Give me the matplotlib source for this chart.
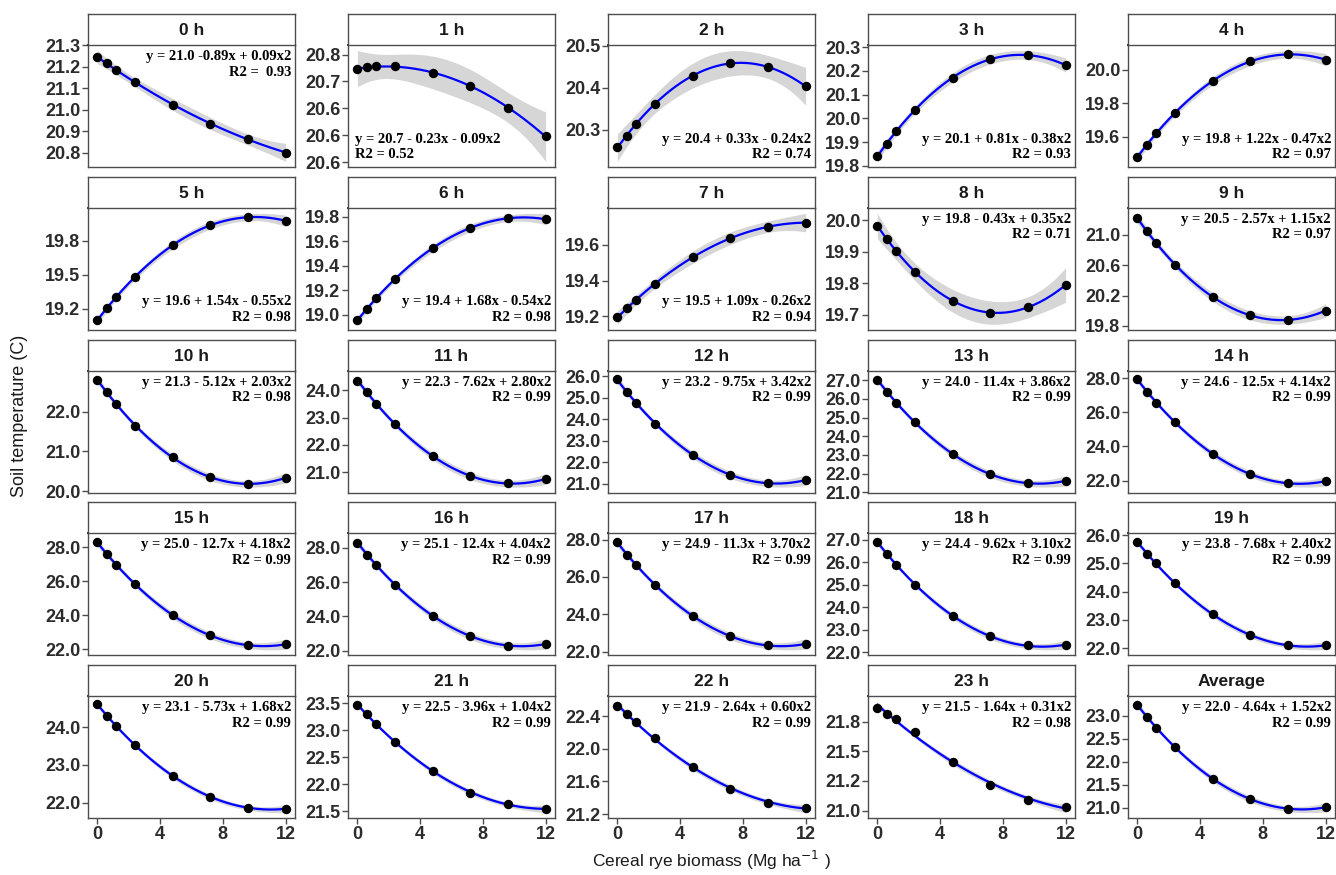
import numpy as np
import matplotlib.pyplot as plt
from matplotlib.ticker import FixedLocator, FormatStrFormatter

plt.rcParams['font.family'] = ['Liberation Sans', 'DejaVu Sans']

# cereal rye biomass levels (Mg/ha)
biomass = [0, 0.6, 1.2, 2.4, 4.8, 7.2, 9.6, 12]

panels = ['0 h', '1 h', '2 h', '3 h', '4 h', '5 h', '6 h', '7 h', '8 h', '9 h',
          '10 h', '11 h', '12 h', '13 h', '14 h', '15 h', '16 h', '17 h', '18 h',
          '19 h', '20 h', '21 h', '22 h', '23 h', 'Average']

# mean soil temperature per biomass level, one row per panel
soil_temp = [
    [21.243, 21.215, 21.185, 21.128, 21.023, 20.935, 20.862, 20.800],
    [20.723, 20.726, 20.728, 20.728, 20.716, 20.692, 20.651, 20.598],
    [20.258, 20.286, 20.315, 20.362, 20.429, 20.459, 20.449, 20.404],
    [19.842, 19.894, 19.946, 20.036, 20.172, 20.249, 20.268, 20.224],
    [19.480, 19.550, 19.620, 19.740, 19.933, 20.052, 20.096, 20.060],
    [19.100, 19.205, 19.300, 19.483, 19.757, 19.935, 20.005, 19.973],
    [18.957, 19.051, 19.137, 19.292, 19.544, 19.709, 19.787, 19.779],
    [19.195, 19.244, 19.292, 19.383, 19.531, 19.636, 19.700, 19.724],
    [19.982, 19.941, 19.902, 19.836, 19.744, 19.706, 19.725, 19.794],
    [21.218, 21.052, 20.891, 20.600, 20.183, 19.944, 19.878, 20.001],
    [22.79, 22.485, 22.19, 21.65, 20.85, 20.36, 20.185, 20.34],
    [24.35, 23.95, 23.50, 22.75, 21.60, 20.85, 20.60, 20.75],
    [25.85, 25.25, 24.75, 23.80, 22.35, 21.40, 21.05, 21.15],
    [27.04, 26.38, 25.80, 24.74, 23.03, 21.98, 21.50, 21.60],
    [27.95, 27.20, 26.55, 25.40, 23.55, 22.40, 21.85, 21.95],
    [28.29, 27.61, 26.96, 25.84, 24.00, 22.83, 22.24, 22.29],
    [28.30, 27.60, 27.00, 25.85, 24.05, 22.85, 22.30, 22.40],
    [27.85, 27.20, 26.65, 25.55, 23.90, 22.85, 22.35, 22.40],
    [26.90, 26.39, 25.90, 25.01, 23.60, 22.71, 22.30, 22.32],
    [25.75, 25.35, 25.00, 24.30, 23.20, 22.45, 22.10, 22.10],
    [24.60, 24.30, 24.03, 23.52, 22.71, 22.16, 21.87, 21.84],
    [23.46, 23.29, 23.12, 22.78, 22.25, 21.85, 21.63, 21.55],
    [22.52, 22.42, 22.33, 22.13, 21.78, 21.51, 21.34, 21.28],
    [21.87, 21.82, 21.77, 21.66, 21.41, 21.22, 21.09, 21.03],
    [23.23, 22.98, 22.74, 22.31, 21.63, 21.19, 20.98, 21.01],
]

# half width of the grey confidence band at 12 Mg/ha
band_hw = [0.042, 0.046, 0.045, 0.03, 0.037, 0.05, 0.045, 0.052, 0.055, 0.09,
           0.13, 0.2, 0.25, 0.27, 0.28, 0.3, 0.3, 0.28, 0.2, 0.15,
           0.1, 0.07, 0.05, 0.035, 0.1]

eq_text = [
    'y = 21.0 -0.89x + 0.09x2', 'y = 20.7 - 0.23x - 0.09x2', 'y = 20.4 + 0.33x - 0.24x2',
    'y = 20.1 + 0.81x - 0.38x2', 'y = 19.8 + 1.22x - 0.47x2', 'y = 19.6 + 1.54x - 0.55x2',
    'y = 19.4 + 1.68x - 0.54x2', 'y = 19.5 + 1.09x - 0.26x2', 'y = 19.8 - 0.43x + 0.35x2',
    'y = 20.5 - 2.57x + 1.15x2', 'y = 21.3 - 5.12x + 2.03x2', 'y = 22.3 - 7.62x + 2.80x2',
    'y = 23.2 - 9.75x + 3.42x2', 'y = 24.0 - 11.4x + 3.86x2', 'y = 24.6 - 12.5x + 4.14x2',
    'y = 25.0 - 12.7x + 4.18x2', 'y = 25.1 - 12.4x + 4.04x2', 'y = 24.9 - 11.3x + 3.70x2',
    'y = 24.4 - 9.62x + 3.10x2', 'y = 23.8 - 7.68x + 2.40x2', 'y = 23.1 - 5.73x + 1.68x2',
    'y = 22.5 - 3.96x + 1.04x2', 'y = 21.9 - 2.64x + 0.60x2', 'y = 21.5 - 1.64x + 0.31x2',
    'y = 22.0 - 4.64x + 1.52x2',
]
r2_text = ['R2 =  0.93', 'R2 = 0.52', 'R2 = 0.74', 'R2 = 0.93', 'R2 = 0.97', 'R2 = 0.98',
           'R2 = 0.98', 'R2 = 0.94', 'R2 = 0.71', 'R2 = 0.97'] + ['R2 = 0.98'] + \
          ['R2 = 0.99'] * 12 + ['R2 = 0.98', 'R2 = 0.99']

label_pos = ['tr', 'bl', 'br', 'br', 'br', 'br', 'br', 'br'] + ['tr'] * 17

y_ticks = [
    [20.8, 20.9, 21.0, 21.1, 21.2, 21.3],
    [20.55, 20.60, 20.65, 20.70, 20.75],
    [20.3, 20.4, 20.5],
    [19.8, 19.9, 20.0, 20.1, 20.2, 20.3],
    [19.6, 19.8, 20.0],
    [19.2, 19.5, 19.8],
    [19.0, 19.2, 19.4, 19.6, 19.8],
    [19.2, 19.4, 19.6],
    [19.7, 19.8, 19.9, 20.0],
    [19.8, 20.2, 20.6, 21.0],
    [20.0, 21.0, 22.0],
    [21.0, 22.0, 23.0, 24.0],
    [21.0, 22.0, 23.0, 24.0, 25.0, 26.0],
    [21.0, 22.0, 23.0, 24.0, 25.0, 26.0, 27.0],
    [22.0, 24.0, 26.0, 28.0],
    [22.0, 24.0, 26.0, 28.0],
    [22.0, 24.0, 26.0, 28.0],
    [22.0, 24.0, 26.0, 28.0],
    [22.0, 23.0, 24.0, 25.0, 26.0, 27.0],
    [22.0, 23.0, 24.0, 25.0, 26.0],
    [22.0, 23.0, 24.0],
    [21.5, 22.0, 22.5, 23.0, 23.5],
    [21.2, 21.6, 22.0, 22.4],
    [21.0, 21.25, 21.5, 21.75],
    [21.0, 21.5, 22.0, 22.5, 23.0],
]
x_ticks = [0, 4, 8, 12]

W, H = 1336, 875
fig = plt.figure(figsize=(W / 100, H / 100), dpi=100)

xs = np.array(biomass)
grid = np.linspace(0, 12, 150)
XtX_inv = np.linalg.inv(np.vander(xs, 3).T @ np.vander(xs, 3))
G = np.vander(grid, 3)
lev = np.sqrt(np.einsum('ij,jk,ik->i', G, XtX_inv, G))
lev = lev / lev[-1]

border = '#4d4d4d'
tick_col = '#2b2b2b'

for i, name in enumerate(panels):
    r, c = divmod(i, 5)
    left = 88 + 260 * c
    top = 45 + 162.8 * r
    ax = fig.add_axes([left / W, 1 - (top + 122) / H, 207 / W, 122 / H])
    sax = fig.add_axes([left / W, 1 - top / H, 207 / W, 31 / H])

    y = np.array(soil_temp[i])
    fit = np.polyval(np.polyfit(xs, y, 2), grid)
    hw = band_hw[i] * lev
    ax.fill_between(grid, fit - hw, fit + hw, color='#999999', alpha=0.4, lw=0)
    ax.plot(grid, fit, color='#0000ff', lw=1.6, zorder=2)
    ax.scatter(xs, y, s=46, color='black', zorder=3, linewidths=0)

    lo = min((fit - hw).min(), y.min())
    hi = max((fit + hw).max(), y.max())
    pad = (hi - lo) * 0.05
    ax.set_ylim(lo - pad, hi + pad)
    ax.set_xlim(-0.6, 12.6)

    ax.yaxis.set_major_locator(FixedLocator(y_ticks[i]))
    ax.yaxis.set_major_formatter(FormatStrFormatter('%.1f'))
    ax.tick_params(axis='both', length=4, width=1, color=border, labelcolor=tick_col,
                   labelsize=13, pad=1.5)
    for lab in ax.get_yticklabels():
        lab.set_fontweight('bold')
    if r == 4:
        ax.set_xticks(x_ticks)
        ax.set_xticklabels([str(t) for t in x_ticks], fontweight='bold')
    else:
        ax.set_xticks([])
    for side, sp in ax.spines.items():
        sp.set_color(border)
        sp.set_linewidth(1.0)
    ax.spines['top'].set_color('#1a1a1a')
    ax.spines['top'].set_linewidth(1.3)

    sax.set_xticks([])
    sax.set_yticks([])
    for sp in sax.spines.values():
        sp.set_color(border)
        sp.set_linewidth(1.0)
    sax.text(0.5, 0.47, name, ha='center', va='center', fontsize=12.5,
             fontweight='bold', color='#1a1a1a', transform=sax.transAxes)

    txt = eq_text[i] + '\n' + r2_text[i]
    tkw = dict(fontsize=10.5, fontweight='bold', family='Liberation Serif',
               transform=ax.transAxes, linespacing=1.25, color='black')
    if label_pos[i] == 'tr':
        ax.text(1 - 4 / 207, 1 - 5 / 122, txt, ha='right', va='top',
                multialignment='right', **tkw)
    elif label_pos[i] == 'br':
        ax.text(1 - 4 / 207, 6 / 122, txt, ha='right', va='bottom',
                multialignment='right', **tkw)
    else:
        ax.text(7 / 207, 6 / 122, txt, ha='left', va='bottom',
                multialignment='left', **tkw)

fig.text(20 / W, 1 - 416 / H, 'Soil temperature (C)', rotation=90, ha='center',
         va='center', fontsize=13, color='#1a1a1a')
fig.text(711 / W, 1 - 860 / H, 'Cereal rye biomass (Mg ha$^{-1}$ )', ha='center',
         va='center', fontsize=12.5, color='#1a1a1a')

fig.savefig('out.png', dpi=100)
